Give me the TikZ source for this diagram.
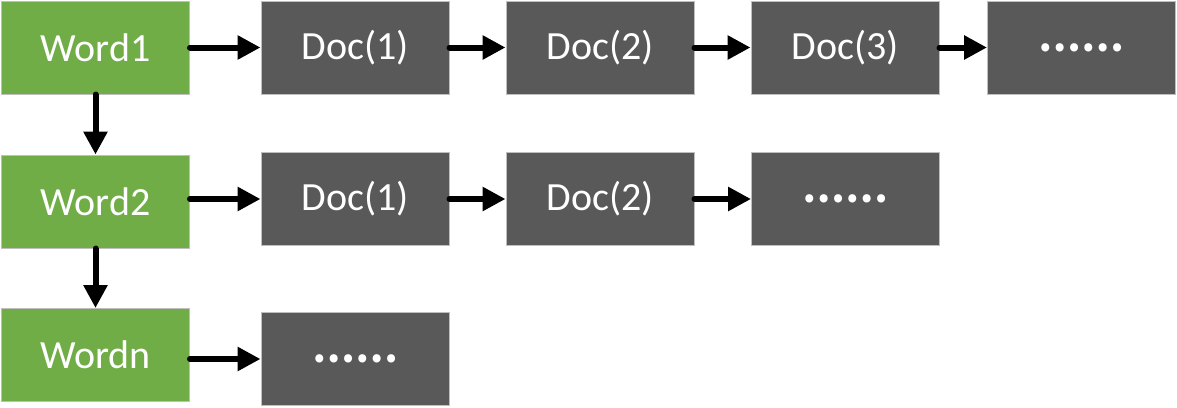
\documentclass[tikz,border=0pt]{standalone}
\usepackage{fontspec}
\setmainfont{Carlito}
\newfontfamily\cjkfont[BoldFont={Noto Sans CJK SC Black}]{Noto Sans CJK SC}
\usetikzlibrary{arrows.meta}
\definecolor{wordgreen}{HTML}{70AD47}
\definecolor{docgray}{HTML}{595959}
\definecolor{edgegray}{HTML}{BFBFBF}
\tikzset{
  box/.style={draw=edgegray, line width=1pt, minimum width=188pt, minimum height=93pt,
    inner sep=0pt, text=white, font=\fontsize{40}{46}\selectfont},
  wordbox/.style={box, fill=wordgreen},
  docbox/.style={box, fill=docgray},
  link/.style={line width=6pt, line cap=round, -{Triangle[length=23pt,width=23pt]}},
}
\newcommand{\moredocs}{{\cjkfont\bfseries\fontsize{38}{44}\selectfont ……}}
\begin{document}
\begin{tikzpicture}[x=1pt,y=-1pt]
\useasboundingbox (0,0) rectangle (1177,407);
% words
\node[wordbox] (w1) at (95.5,47.5) {Word1};
\node[wordbox] (w2) at (95.5,201.5) {Word2};
\node[wordbox] (wn) at (95.5,355) {Wordn};
% row 1
\node[docbox] (a1) at (355,47.5) {Doc(1)};
\node[docbox] (a2) at (600,47.5) {Doc(2)};
\node[docbox] (a3) at (845,47.5) {Doc(3)};
\node[docbox] (a4) at (1081.5,47.5) {\moredocs};
% row 2
\node[docbox] (b1) at (355,199) {Doc(1)};
\node[docbox] (b2) at (600,199) {Doc(2)};
\node[docbox] (b3) at (845.5,199) {\moredocs};
% row 3
\node[docbox] (c1) at (355,359) {\moredocs};
% arrows
\draw[link] (w1.east |- a1.west) -- (a1.west);
\draw[link] (a1.east) -- (a2.west);
\draw[link] (a2.east) -- (a3.west);
\draw[link] (a3.east) -- (a4.west);
\draw[link] (w2.east |- b1.west) -- (b1.west);
\draw[link] (b1.east) -- (b2.west);
\draw[link] (b2.east) -- (b3.west);
\draw[link] (wn.east |- c1.west) -- (c1.west);
\draw[link] (w1.south) -- (w2.north);
\draw[link] (w2.south) -- (wn.north);
\end{tikzpicture}
\end{document}
